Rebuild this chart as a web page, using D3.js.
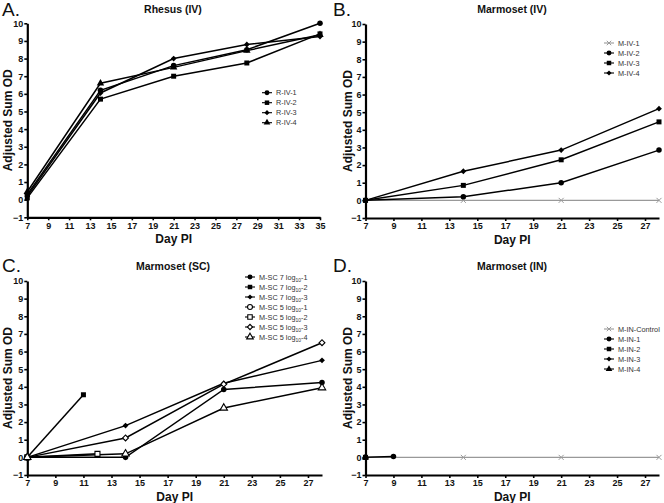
<!DOCTYPE html>
<html><head><meta charset="utf-8">
<script src="https://cdn.jsdelivr.net/npm/d3@7"></script>
<style>body{margin:0;background:#fff}svg{display:block}</style>
</head><body>
<svg id="c" width="664" height="503"></svg>
<script>
// ---- data ----
const yTicks = [-1,0,1,2,3,4,5,6,7,8,9,10];
const xTicksA = [7,9,11,13,15,17,19,21,23,25,27,29,31,33,35];
const xTicksBCD = [7,9,11,13,15,17,19,21,23,25,27];

const daysA = [7,14,21,28,35];
const rIV1 = [0.3,6.2,7.6,8.5,10.0];
const rIV2 = [0.1,5.7,7.0,7.75,9.4];
const rIV3 = [0.2,6.05,8.0,8.8,9.25];
const rIV4 = [0.45,6.6,7.5,8.45,9.35];

const daysB = [7,14,21,28];
const mIV1 = [0,0,0,0];
const mIV2 = [0,0.2,1.0,2.85];
const mIV3 = [0,0.85,2.3,4.45];
const mIV4 = [0,1.65,2.85,5.2];

const daysC = [7,14,21,28];
const sc7_1 = [0,0.0,3.85,4.25];
const sc7_2Days = [7,11];
const sc7_2 = [0,3.55];
const sc7_3 = [0,1.8,4.2,5.5];
const sc5_1Days = [7];
const sc5_1 = [0];
const sc5_2Days = [7,12];
const sc5_2 = [0,0.2];
const sc5_3 = [0,1.1,4.15,6.5];
const sc5_4 = [0,0.2,2.8,3.95];

const daysDCtrl = [7,14,21,28];
const inCtrl = [0,0,0,0];
const in1Days = [7,9];
const in1 = [0,0.05];
const in2Days = [7]; const in2 = [0];
const in3Days = [7]; const in3 = [0];
const in4Days = [7]; const in4 = [0];

const svg = d3.select('#c');
const FONT = '"Liberation Sans", Arial, sans-serif';

function drawMarker(g, x, y, m, scale){
  scale = scale || 1;
  let d, rot = 0;
  if (m.shape==='circle') d = d3.symbol().type(d3.symbolCircle).size(24*scale)();
  else if (m.shape==='square') d = d3.symbol().type(d3.symbolSquare).size(25*scale)();
  else if (m.shape==='diamond'){ d = d3.symbol().type(d3.symbolSquare).size(17*scale)(); rot = 45; }
  else if (m.shape==='triangle') d = d3.symbol().type(d3.symbolTriangle).size(24*scale)();
  else d = d3.symbol().type(d3.symbolTimes).size(18*scale)();
  const p = g.append('path').attr('transform',`translate(${x},${y}) rotate(${rot})`).attr('d', d);
  if (m.shape==='x'){
    p.attr('fill','none').attr('stroke',m.color).attr('stroke-width',1);
  } else if (m.open){
    p.attr('fill','#fff').attr('stroke',m.color).attr('stroke-width',1.1);
  } else {
    p.attr('fill',m.color);
  }
}

function panel(cfg){
  const g = svg.append('g');
  const x = d3.scaleLinear().domain(cfg.xdom).range(cfg.xr);
  const y = d3.scaleLinear().domain([-1,10]).range(cfg.yr);
  const ya = g.append('g').attr('transform',`translate(${cfg.xr[0]},0)`)
    .call(d3.axisLeft(y).tickValues(yTicks).tickSize(3).tickSizeOuter(0).tickPadding(1));
  const xa = g.append('g').attr('transform',`translate(0,${cfg.yr[0]})`)
    .call(d3.axisBottom(x).tickValues(cfg.xticks).tickSize(3).tickSizeOuter(0).tickPadding(2));
  [ya,xa].forEach(a=>{
    a.select('.domain').attr('stroke','#000').attr('stroke-width',2.2);
    a.selectAll('.tick line').attr('stroke','#000').attr('stroke-width',1.6);
    a.selectAll('.tick text').attr('font-family',FONT).attr('font-size',9)
      .attr('font-weight','bold').attr('fill','#111');
  });
  g.append('text').attr('x',cfg.titleX).attr('y',cfg.titleY).attr('text-anchor','middle')
    .attr('font-family',FONT).attr('font-size',10.5).attr('font-weight','bold').attr('fill','#111').text(cfg.title);
  g.append('text').attr('x',cfg.letterX).attr('y',cfg.letterY)
    .attr('font-family',FONT).attr('font-size',19).attr('fill','#111').text(cfg.letter);
  g.append('text').attr('transform',`translate(${cfg.ytX},${(cfg.yr[0]+cfg.yr[1])/2}) rotate(-90)`)
    .attr('text-anchor','middle').attr('dy','0.35em')
    .attr('font-family',FONT).attr('font-size',12).attr('font-weight','bold').attr('fill','#111').text('Adjusted Sum OD');
  g.append('text').attr('x',(cfg.xr[0]+cfg.xr[1])/2).attr('y',cfg.yr[0]+26).attr('text-anchor','middle')
    .attr('font-family',FONT).attr('font-size',12).attr('font-weight','bold').attr('fill','#111').text('Day PI');
  const line = d3.line().x(d=>x(d[0])).y(d=>y(d[1]));
  cfg.series.forEach(s=>{
    const pts = s.days.map((d,i)=>[d,s.vals[i]]);
    if (pts.length>1)
      g.append('path').attr('d',line(pts)).attr('fill','none').attr('stroke',s.color)
        .attr('stroke-width',s.color==='#000'?1.5:1.2);
  });
  cfg.series.forEach(s=>{
    s.days.forEach((d,i)=>drawMarker(g,x(d),y(s.vals[i]),s));
  });
  cfg.series.forEach((s,i)=>{
    const ly = cfg.legY + i*cfg.legStep;
    g.append('line').attr('x1',cfg.legX-5).attr('x2',cfg.legX+5).attr('y1',ly).attr('y2',ly)
      .attr('stroke',s.color).attr('stroke-width',1.1);
    drawMarker(g,cfg.legX,ly,s,0.8);
    const t = g.append('text').attr('x',cfg.legX+9).attr('y',ly).attr('dy','0.35em')
      .attr('font-family',FONT).attr('font-size',7.3).attr('fill','#333');
    if (s.sub){
      t.append('tspan').text(s.label[0]);
      t.append('tspan').attr('font-size',5).attr('dy','2').text(s.label[1]);
      t.append('tspan').attr('dy','-2').text(s.label[2]);
    } else t.text(s.label);
  });
}

const K='#000', G='#999';
panel({xdom:[7,35], xr:[27.3,320], yr:[217.3,23.3], xticks:xTicksA,
  title:'Rhesus (IV)', titleX:173, titleY:13, letter:'A.', letterX:2, letterY:16, ytX:8,
  legX:267, legY:92.7, legStep:10,
  series:[
    {label:'R-IV-1', days:daysA, vals:rIV1, shape:'circle', color:K},
    {label:'R-IV-2', days:daysA, vals:rIV2, shape:'square', color:K},
    {label:'R-IV-3', days:daysA, vals:rIV3, shape:'diamond', color:K},
    {label:'R-IV-4', days:daysA, vals:rIV4, shape:'triangle', color:K}
  ]});
panel({xdom:[7,28], xr:[365.5,659], yr:[218,24], xticks:xTicksBCD,
  title:'Marmoset (IV)', titleX:512, titleY:13, letter:'B.', letterX:333, letterY:16, ytX:348,
  legX:609, legY:43, legStep:10,
  series:[
    {label:'M-IV-1', days:daysB, vals:mIV1, shape:'x', color:G},
    {label:'M-IV-2', days:daysB, vals:mIV2, shape:'circle', color:K},
    {label:'M-IV-3', days:daysB, vals:mIV3, shape:'square', color:K},
    {label:'M-IV-4', days:daysB, vals:mIV4, shape:'diamond', color:K}
  ]});
panel({xdom:[7,28], xr:[27.3,322], yr:[475,281], xticks:xTicksBCD,
  title:'Marmoset (SC)', titleX:173, titleY:270, letter:'C.', letterX:2, letterY:272, ytX:8,
  legX:250, legY:277, legStep:10,
  series:[
    {label:['M-SC 7 log','10','-1'], sub:true, days:daysC, vals:sc7_1, shape:'circle', color:K},
    {label:['M-SC 7 log','10','-2'], sub:true, days:sc7_2Days, vals:sc7_2, shape:'square', color:K},
    {label:['M-SC 7 log','10','-3'], sub:true, days:daysC, vals:sc7_3, shape:'diamond', color:K},
    {label:['M-SC 5 log','10','-1'], sub:true, days:sc5_1Days, vals:sc5_1, shape:'circle', open:true, color:K},
    {label:['M-SC 5 log','10','-2'], sub:true, days:sc5_2Days, vals:sc5_2, shape:'square', open:true, color:K},
    {label:['M-SC 5 log','10','-3'], sub:true, days:daysC, vals:sc5_3, shape:'diamond', open:true, color:K},
    {label:['M-SC 5 log','10','-4'], sub:true, days:daysC, vals:sc5_4, shape:'triangle', open:true, color:K}
  ]});
panel({xdom:[7,28], xr:[365.5,659], yr:[475,281], xticks:xTicksBCD,
  title:'Marmoset (IN)', titleX:512, titleY:270, letter:'D.', letterX:333, letterY:272, ytX:348,
  legX:609, legY:329, legStep:10,
  series:[
    {label:'M-IN-Control', days:daysDCtrl, vals:inCtrl, shape:'x', color:G},
    {label:'M-IN-1', days:in1Days, vals:in1, shape:'circle', color:K},
    {label:'M-IN-2', days:in2Days, vals:in2, shape:'square', color:K},
    {label:'M-IN-3', days:in3Days, vals:in3, shape:'diamond', color:K},
    {label:'M-IN-4', days:in4Days, vals:in4, shape:'triangle', color:K}
  ]});
</script>
</body></html>
